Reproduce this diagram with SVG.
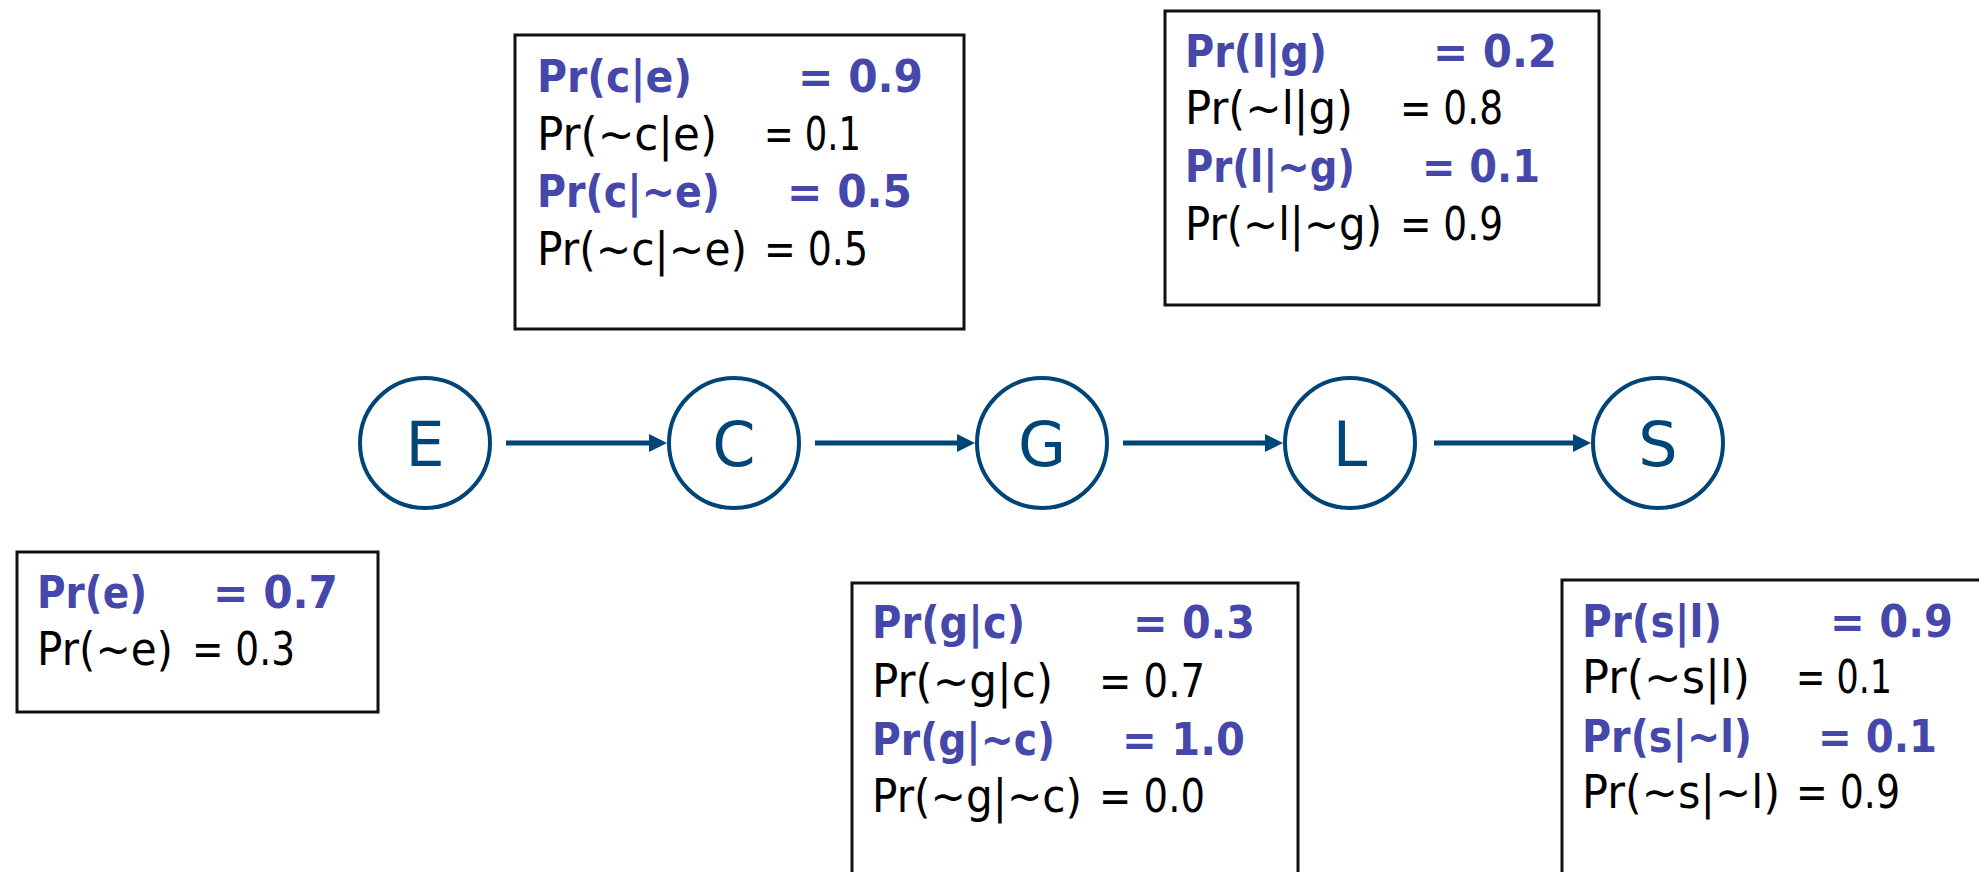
<svg xmlns="http://www.w3.org/2000/svg" width="1979" height="872" viewBox="0 0 1979 872">
<style>
.box{fill:#fff;stroke:#111;stroke-width:3}
.nd{fill:#fff;stroke:#004578;stroke-width:4}
.lbl{font-family:"DejaVu Sans",sans-serif;font-size:62px;fill:#004578;text-anchor:middle}
.b{font-family:"DejaVu Sans",sans-serif;font-size:45px;font-weight:bold;fill:#4548AA}
.k{font-family:"DejaVu Sans",sans-serif;font-size:46px;fill:#000}
.edge{stroke:#004578;stroke-width:5;fill:none}
</style>
<defs>
<marker id="ah" markerWidth="20" markerHeight="20" refX="8" refY="9" orient="auto" markerUnits="userSpaceOnUse">
<path d="M0,0 L18,9 L0,18 z" fill="#004578"/>
</marker>
</defs>
<rect width="1979" height="872" fill="#fff"/>

<g id="connectors">
<line class="edge" x1="506" y1="443" x2="657" y2="443" marker-end="url(#ah)"/>
<line class="edge" x1="815" y1="443" x2="965" y2="443" marker-end="url(#ah)"/>
<line class="edge" x1="1123" y1="443" x2="1273" y2="443" marker-end="url(#ah)"/>
<line class="edge" x1="1434" y1="443" x2="1581" y2="443" marker-end="url(#ah)"/>
</g>

<g id="node-E"><circle class="nd" cx="425" cy="443" r="65"/><text class="lbl" x="425" y="466">E</text></g>
<g id="node-C"><circle class="nd" cx="734" cy="443" r="65"/><text class="lbl" x="734" y="466">C</text></g>
<g id="node-G"><circle class="nd" cx="1042" cy="443" r="65"/><text class="lbl" x="1042" y="466">G</text></g>
<g id="node-L"><circle class="nd" cx="1350" cy="443" r="65"/><text class="lbl" x="1350" y="466">L</text></g>
<g id="node-S"><circle class="nd" cx="1658" cy="443" r="65"/><text class="lbl" x="1658" y="466">S</text></g>

<g id="cpt-E">
<rect class="box" x="17" y="552" width="361" height="160"/>
<text class="b" x="37" y="608" textLength="110" lengthAdjust="spacingAndGlyphs">Pr(e)</text>
<text class="b" x="213" y="608" textLength="125" lengthAdjust="spacingAndGlyphs">= 0.7</text>
<text class="k" x="37" y="665" textLength="136" lengthAdjust="spacingAndGlyphs">Pr(~e)</text>
<text class="k" x="192" y="665" textLength="103" lengthAdjust="spacingAndGlyphs">= 0.3</text>
</g>

<g id="cpt-C">
<rect class="box" x="515" y="35" width="449" height="294"/>
<text class="b" x="537" y="92" textLength="155" lengthAdjust="spacingAndGlyphs">Pr(c|e)</text>
<text class="b" x="798" y="92" textLength="125" lengthAdjust="spacingAndGlyphs">= 0.9</text>
<text class="k" x="537" y="150" textLength="180" lengthAdjust="spacingAndGlyphs">Pr(~c|e)</text>
<text class="k" x="764" y="150" textLength="97" lengthAdjust="spacingAndGlyphs">= 0.1</text>
<text class="b" x="537" y="207" textLength="183" lengthAdjust="spacingAndGlyphs">Pr(c|~e)</text>
<text class="b" x="787" y="207" textLength="125" lengthAdjust="spacingAndGlyphs">= 0.5</text>
<text class="k" x="537" y="265" textLength="210" lengthAdjust="spacingAndGlyphs">Pr(~c|~e)</text>
<text class="k" x="764" y="265" textLength="104" lengthAdjust="spacingAndGlyphs">= 0.5</text>
</g>

<g id="cpt-L">
<rect class="box" x="1165" y="11" width="434" height="294"/>
<text class="b" x="1185" y="67" textLength="142" lengthAdjust="spacingAndGlyphs">Pr(l|g)</text>
<text class="b" x="1433" y="67" textLength="124" lengthAdjust="spacingAndGlyphs">= 0.2</text>
<text class="k" x="1185" y="124" textLength="168" lengthAdjust="spacingAndGlyphs">Pr(~l|g)</text>
<text class="k" x="1400" y="124" textLength="103" lengthAdjust="spacingAndGlyphs">= 0.8</text>
<text class="b" x="1185" y="182" textLength="170" lengthAdjust="spacingAndGlyphs">Pr(l|~g)</text>
<text class="b" x="1422" y="182" textLength="118" lengthAdjust="spacingAndGlyphs">= 0.1</text>
<text class="k" x="1185" y="240" textLength="197" lengthAdjust="spacingAndGlyphs">Pr(~l|~g)</text>
<text class="k" x="1400" y="240" textLength="103" lengthAdjust="spacingAndGlyphs">= 0.9</text>
</g>

<g id="cpt-G">
<rect class="box" x="852" y="583" width="446" height="300"/>
<text class="b" x="872" y="638" textLength="153" lengthAdjust="spacingAndGlyphs">Pr(g|c)</text>
<text class="b" x="1133" y="638" textLength="122" lengthAdjust="spacingAndGlyphs">= 0.3</text>
<text class="k" x="872" y="697" textLength="181" lengthAdjust="spacingAndGlyphs">Pr(~g|c)</text>
<text class="k" x="1099" y="697" textLength="106" lengthAdjust="spacingAndGlyphs">= 0.7</text>
<text class="b" x="872" y="755" textLength="183" lengthAdjust="spacingAndGlyphs">Pr(g|~c)</text>
<text class="b" x="1122" y="755" textLength="123" lengthAdjust="spacingAndGlyphs">= 1.0</text>
<text class="k" x="872" y="812" textLength="210" lengthAdjust="spacingAndGlyphs">Pr(~g|~c)</text>
<text class="k" x="1099" y="812" textLength="106" lengthAdjust="spacingAndGlyphs">= 0.0</text>
</g>

<g id="cpt-S">
<rect class="box" x="1562" y="580" width="430" height="300"/>
<text class="b" x="1582" y="637" textLength="140" lengthAdjust="spacingAndGlyphs">Pr(s|l)</text>
<text class="b" x="1830" y="637" textLength="123" lengthAdjust="spacingAndGlyphs">= 0.9</text>
<text class="k" x="1582" y="693" textLength="168" lengthAdjust="spacingAndGlyphs">Pr(~s|l)</text>
<text class="k" x="1796" y="693" textLength="96" lengthAdjust="spacingAndGlyphs">= 0.1</text>
<text class="b" x="1582" y="752" textLength="170" lengthAdjust="spacingAndGlyphs">Pr(s|~l)</text>
<text class="b" x="1818" y="752" textLength="119" lengthAdjust="spacingAndGlyphs">= 0.1</text>
<text class="k" x="1582" y="808" textLength="198" lengthAdjust="spacingAndGlyphs">Pr(~s|~l)</text>
<text class="k" x="1796" y="808" textLength="104" lengthAdjust="spacingAndGlyphs">= 0.9</text>
</g>
</svg>
